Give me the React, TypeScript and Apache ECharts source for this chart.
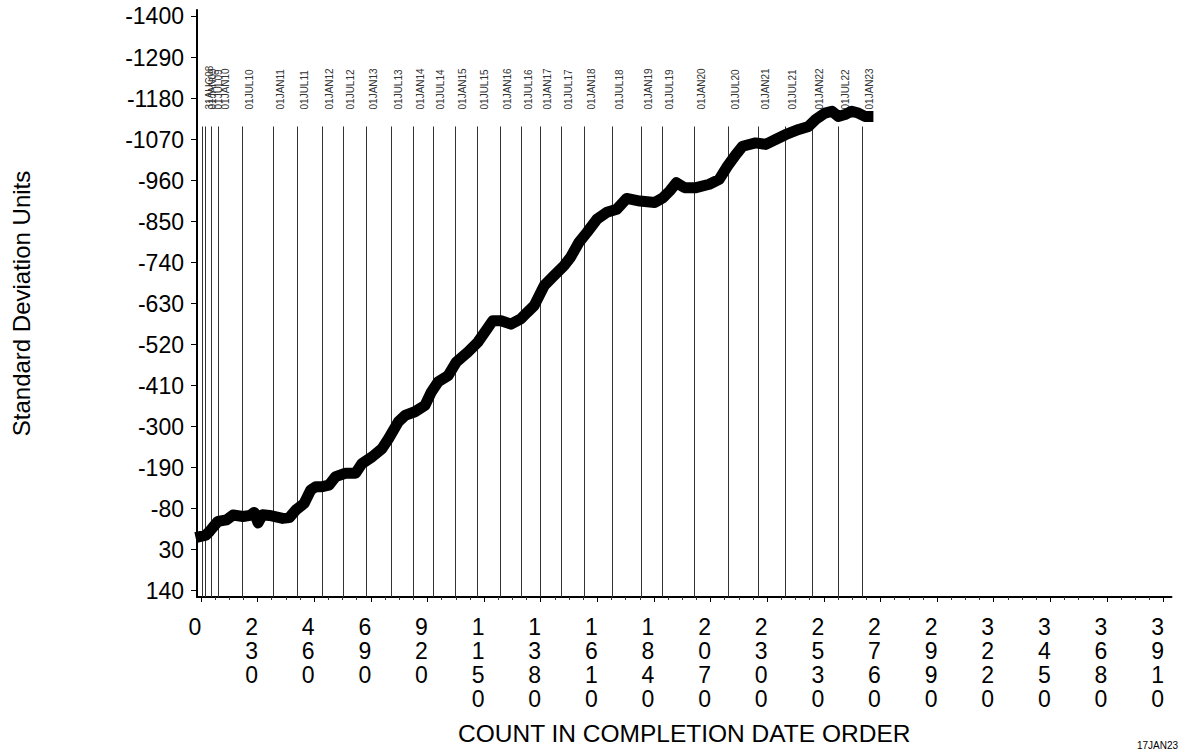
import React, { useEffect, useRef } from "react";
import * as echarts from "echarts";

// Cumulative series (count in completion date order vs standard deviation units)
const COUNTS = [0, 20, 36, 69, 104, 130, 171, 200, 216, 232, 250, 278, 332, 359, 386, 419, 446, 466, 493, 520, 547, 587, 628, 654, 695, 735, 762, 802, 829, 869, 910, 936, 963, 1004, 1037, 1084, 1125, 1158, 1185, 1219, 1259, 1299, 1326, 1353, 1394, 1434, 1474, 1501, 1535, 1568, 1608, 1649, 1689, 1729, 1783, 1843, 1877, 1904, 1931, 1964, 2011, 2065, 2105, 2139, 2173, 2200, 2253, 2294, 2334, 2374, 2428, 2468, 2495, 2535, 2563, 2589, 2616, 2643, 2670, 2697, 2709];
const VALUES = [-6, -9, -20, -46, -50, -63, -59, -62, -70, -42, -64, -62, -54, -56, -77, -94, -130, -139, -139, -143, -166, -175, -175, -201, -219, -241, -268, -313, -330, -340, -357, -393, -420, -437, -473, -500, -527, -558, -584, -584, -575, -589, -607, -624, -678, -705, -731, -754, -794, -821, -856, -875, -883, -912, -905, -901, -914, -932, -954, -941, -941, -950, -963, -999, -1030, -1052, -1061, -1057, -1070, -1083, -1097, -1105, -1123, -1141, -1146, -1132, -1137, -1146, -1141, -1132, -1132];

// Date reference lines
const DATE_COUNTS = [3, 16, 39, 70, 165, 291, 389, 491, 576, 672, 773, 861, 943, 1031, 1121, 1213, 1298, 1376, 1464, 1555, 1669, 1786, 1872, 2003, 2142, 2261, 2372, 2482, 2587, 2687];
const DATE_LABELS = ["31AUG08", "01JAN09", "01JUL09", "01JAN10", "01JUL10", "01JAN11", "01JUL11", "01JAN12", "01JUL12", "01JAN13", "01JUL13", "01JAN14", "01JUL14", "01JAN15", "01JUL15", "01JAN16", "01JUL16", "01JAN17", "01JUL17", "01JAN18", "01JUL18", "01JAN19", "01JUL19", "01JAN20", "01JUL20", "01JAN21", "01JUL21", "01JAN22", "01JUL22", "01JAN23"];
const DATE_LINE_TOP = -1105;

// Axis ticks
const Y_TICKS = [-1400, -1290, -1180, -1070, -960, -850, -740, -630, -520, -410, -300, -190, -80, 30, 140];
const X_TICKS = [0, 230, 460, 690, 920, 1150, 1380, 1610, 1840, 2070, 2300, 2530, 2760, 2990, 3220, 3450, 3680, 3910];
const X_MINOR_STEP = 57.5;

const FONT = "Liberation Sans, Arial, Helvetica, sans-serif";

export default function App() {
  const ref = useRef<HTMLDivElement>(null);
  useEffect(() => {
    if (!ref.current) return;
    const chart = echarts.init(ref.current, undefined, { renderer: "svg" });
    const xMin = -16;
    const xMax = 3942;
    const yMin = -1417.4;
    const yMax = 156.8;
    const minorTicks: number[] = [];
    for (let i = 0; i * X_MINOR_STEP <= xMax; i++) {
      const v = i * X_MINOR_STEP;
      if (i % 4 !== 0) minorTicks.push(v);
    }
    const option: any = {
      animation: false,
      backgroundColor: "#ffffff",
      grid: { left: 197, right: 0, top: 10, bottom: 152, containLabel: false },
      xAxis: [
        {
          type: "value",
          min: xMin,
          max: xMax,
          name: "COUNT IN COMPLETION DATE ORDER",
          nameLocation: "middle",
          nameGap: 124,
          nameTextStyle: { fontFamily: FONT, fontSize: 24.5, color: "#000" },
          axisLine: { show: true, onZero: false, lineStyle: { color: "#000", width: 2 } },
          axisTick: { show: true, customValues: X_TICKS, length: 5, lineStyle: { color: "#000", width: 1 } },
          axisLabel: {
            show: true,
            customValues: X_TICKS,
            formatter: (v: number) => String(Math.round(v)).split("").join("\n"),
            fontFamily: FONT,
            fontSize: 23,
            lineHeight: 24,
            color: "#000",
            margin: 18,
            align: "center",
            verticalAlign: "top",
            padding: [0, 12, 0, 0],
          },
          splitLine: { show: false },
        },
        {
          type: "value",
          min: xMin,
          max: xMax,
          position: "bottom",
          axisLine: { show: false, onZero: false },
          axisTick: { show: true, customValues: minorTicks, length: 3, lineStyle: { color: "#333", width: 1 } },
          axisLabel: { show: false },
          splitLine: { show: false },
        },
      ],
      yAxis: {
        type: "value",
        inverse: true,
        min: yMin,
        max: yMax,
        name: "Standard Deviation Units",
        nameLocation: "middle",
        nameGap: 164,
        nameTextStyle: { fontFamily: FONT, fontSize: 24, color: "#000" },
        axisLine: { show: true, onZero: false, lineStyle: { color: "#000", width: 2 } },
        axisTick: { show: true, customValues: Y_TICKS, length: 6, lineStyle: { color: "#000", width: 1 } },
        axisLabel: {
          show: true,
          customValues: Y_TICKS,
          formatter: (v: number) => String(Math.round(v)),
          fontFamily: FONT,
          fontSize: 23,
          color: "#000",
          margin: 13,
        },
        splitLine: { show: false },
      },
      series: [
        {
          type: "custom",
          xAxisIndex: 0,
          yAxisIndex: 0,
          data: DATE_COUNTS.map((c) => [c, DATE_LINE_TOP]),
          renderItem: (params: any, api: any) => {
            const c = api.value(0);
            const top = api.coord([c, DATE_LINE_TOP]);
            const bot = api.coord([c, yMax]);
            const x = Math.round(top[0]) + 0.5;
            return {
              type: "group",
              children: [
                {
                  type: "line",
                  shape: { x1: x, y1: top[1], x2: x, y2: bot[1] },
                  style: { stroke: "#333", lineWidth: 1 },
                },
                {
                  type: "text",
                  x: x + 7,
                  y: top[1] - 17,
                  rotation: Math.PI / 2,
                  style: {
                    text: DATE_LABELS[params.dataIndex],
                    fontFamily: FONT,
                    fontSize: 10,
                    fill: "#333",
                    align: "left",
                    verticalAlign: "middle",
                  },
                },
              ],
            };
          },
          z: 1,
        },
        {
          type: "line",
          xAxisIndex: 0,
          yAxisIndex: 0,
          data: COUNTS.map((c, i) => [c, VALUES[i]]),
          showSymbol: false,
          symbol: "none",
          lineStyle: { color: "#000", width: 11, join: "round", cap: "square" },
          z: 3,
        },
      ],
      graphic: [
        {
          type: "text",
          left: 1137,
          top: 740,
          style: { text: "17JAN23", fontFamily: FONT, fontSize: 10, fill: "#000" },
        },
      ],
    };
    chart.setOption(option);
    return () => chart.dispose();
  }, []);
  return (
    <div
      ref={ref}
      style={{ position: "fixed", left: 0, top: 0, width: 1179, height: 751, background: "#fff" }}
    />
  );
}
